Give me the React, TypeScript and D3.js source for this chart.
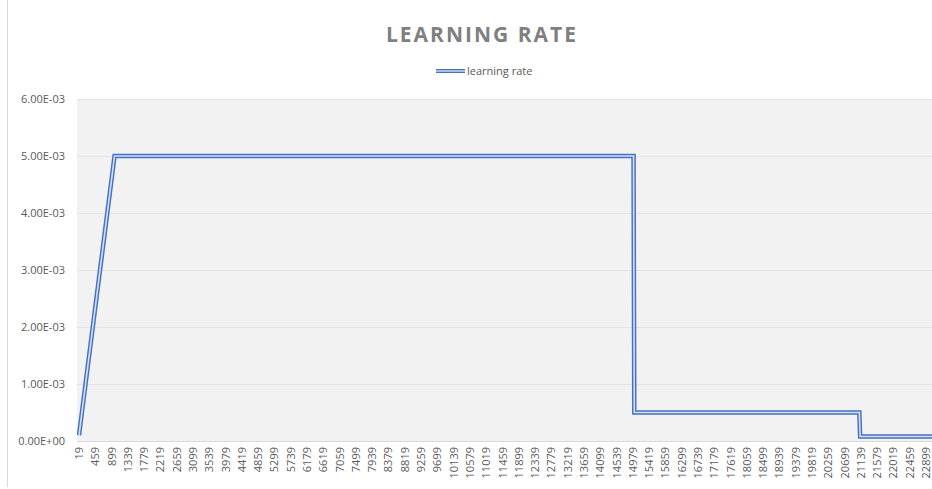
import React, { useEffect, useRef } from 'react'
import * as d3 from 'd3'

// breakpoints of the learning rate schedule (step -> rate)
const steps = [19, 979, 14999, 15019, 21099, 21119, 23200]
const rates = [0.0001, 0.005, 0.005, 0.0005, 0.0005, 0.00008, 0.00008]

const yTicks = [0, 0.001, 0.002, 0.003, 0.004, 0.005, 0.006]
const xTickLabels = [
  19, 459, 899, 1339, 1779, 2219, 2659, 3099, 3539, 3979, 4419, 4859, 5299, 5739,
  6179, 6619, 7059, 7499, 7939, 8379, 8819, 9259, 9699, 10139, 10579, 11019, 11459,
  11899, 12339, 12779, 13219, 13659, 14099, 14539, 14979, 15419, 15859, 16299, 16739,
  17179, 17619, 18059, 18499, 18939, 19379, 19819, 20259, 20699, 21139, 21579, 22019,
  22459, 22899,
]

const W = 932
const H = 489

export default function App() {
  const svgRef = useRef<SVGSVGElement>(null)

  useEffect(() => {
    const svg = d3.select(svgRef.current)
    svg.selectAll('*').remove()

    const left = 77
    const top = 99
    const bottom = 441
    const x = d3.scaleLinear().domain([19, 22899]).range([79, 926])
    const y = d3.scaleLinear().domain([0, 0.006]).range([bottom, top])

    svg.append('rect').attr('width', W).attr('height', H).attr('fill', '#ffffff')
    svg.append('line')
      .attr('x1', 7.5).attr('x2', 7.5).attr('y1', 0).attr('y2', 487)
      .attr('stroke', '#d9d9d9')

    // plot area
    svg.append('rect')
      .attr('x', left).attr('y', top)
      .attr('width', W - left + 10).attr('height', bottom - top)
      .attr('fill', '#f2f2f2')

    svg.append('g')
      .selectAll('line')
      .data(yTicks.slice(1))
      .join('line')
      .attr('x1', left).attr('x2', W)
      .attr('y1', d => Math.round(y(d)) + 0.5).attr('y2', d => Math.round(y(d)) + 0.5)
      .attr('stroke', '#e3e3e3')

    svg.append('line')
      .attr('x1', left).attr('x2', W)
      .attr('y1', bottom + 0.5).attr('y2', bottom + 0.5)
      .attr('stroke', '#d9d9d9')

    svg.append('g')
      .selectAll('text')
      .data(yTicks)
      .join('text')
      .attr('x', 65)
      .attr('y', d => y(d) + 4)
      .attr('text-anchor', 'end')
      .attr('font-family', 'Open Sans, sans-serif')
      .attr('font-size', 11)
      .attr('fill', '#595959')
      .text(d => d.toExponential(2).toUpperCase().replace(/E([+-])(\d)$/, 'E$10$2'))

    svg.append('g')
      .selectAll('text')
      .data(xTickLabels)
      .join('text')
      .attr('transform', d => `translate(${x(d) + 4},${bottom + 6}) rotate(-90)`)
      .attr('text-anchor', 'end')
      .attr('font-family', 'Open Sans, sans-serif')
      .attr('font-size', 11)
      .attr('fill', '#595959')
      .text(d => String(d))

    const line = d3.line<number>()
      .x((d, i) => x(steps[i]))
      .y(d => y(d))

    svg.append('path')
      .datum(rates)
      .attr('fill', 'none')
      .attr('stroke', '#4472c4')
      .attr('stroke-width', 4.5)
      .attr('d', line)
    svg.append('path')
      .datum(rates)
      .attr('fill', 'none')
      .attr('stroke', '#d6e0f2')
      .attr('stroke-width', 1.6)
      .attr('d', line)

    // title
    svg.append('text')
      .attr('x', 482).attr('y', 42)
      .attr('text-anchor', 'middle')
      .attr('font-family', 'Open Sans, sans-serif')
      .attr('font-weight', 'bold')
      .attr('font-size', 21)
      .attr('letter-spacing', 2)
      .attr('fill', '#7f7f7f')
      .text('LEARNING RATE')

    // legend
    const lg = svg.append('g')
    lg.append('line')
      .attr('x1', 436).attr('x2', 465).attr('y1', 71).attr('y2', 71)
      .attr('stroke', '#4472c4').attr('stroke-width', 4)
    lg.append('line')
      .attr('x1', 436).attr('x2', 465).attr('y1', 71).attr('y2', 71)
      .attr('stroke', '#d6e0f2').attr('stroke-width', 1.4)
    lg.append('text')
      .attr('x', 467).attr('y', 75)
      .attr('font-family', 'Open Sans, sans-serif')
      .attr('font-size', 11)
      .attr('fill', '#595959')
      .text('learning rate')
  }, [])

  return (
    <svg
      ref={svgRef}
      width={W}
      height={H}
      style={{ position: 'absolute', left: 0, top: 0, display: 'block' }}
    />
  )
}
